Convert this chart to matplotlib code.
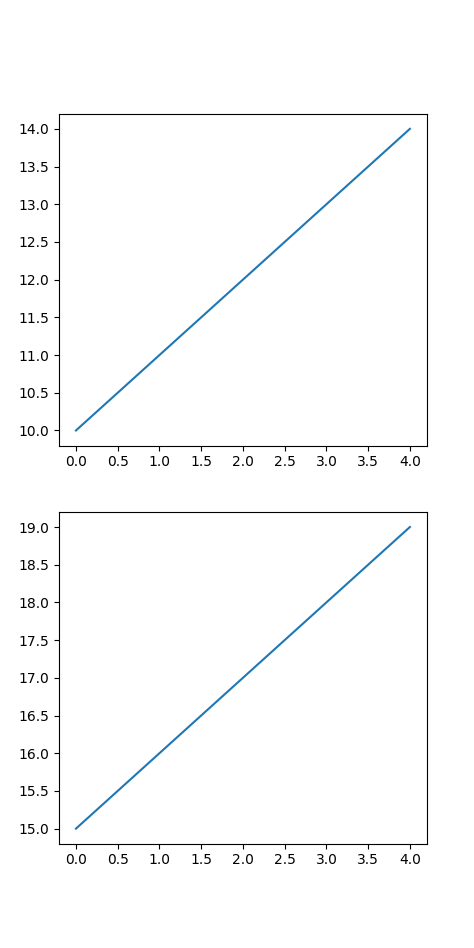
import matplotlib
matplotlib.use("Agg")
import matplotlib.pyplot as plt
from matplotlib.ticker import MultipleLocator

x = [0, 1, 2, 3, 4]
y_top = [10, 11, 12, 13, 14]
y_bottom = [15, 16, 17, 18, 19]

fig, (ax1, ax2) = plt.subplots(2, 1, figsize=(4.74, 9.48), dpi=100)
ax1.plot(x, y_top)
ax2.plot(x, y_bottom)
for ax in (ax1, ax2):
    ax.xaxis.set_major_locator(MultipleLocator(0.5))
    ax.yaxis.set_major_locator(MultipleLocator(0.5))
fig.savefig("out.png", dpi=100)
